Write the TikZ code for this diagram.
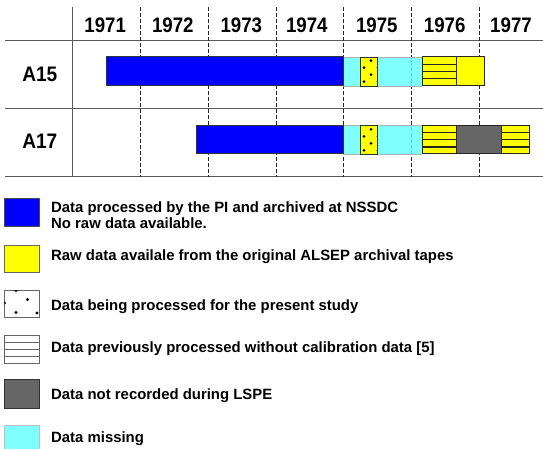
\documentclass[tikz,border=0pt]{standalone}
\usepackage{fontspec}
\setmainfont{Liberation Sans}
\newfontfamily\yearfont{Liberation Sans}[FakeStretch=0.89]
\newfontfamily\rowfont{Liberation Sans}[FakeStretch=0.91]
\definecolor{pblue}{RGB}{0,0,255}
\definecolor{pyellow}{RGB}{255,255,0}
\definecolor{pcyanT}{RGB}{96,255,255}
\definecolor{pcyan}{RGB}{128,255,255}
\definecolor{pgray}{RGB}{102,102,102}
\definecolor{pline}{RGB}{90,90,90}
\newcommand\stripebox[4]{%
  \fill[pyellow] (#1,#2) rectangle (#3,#4);
  \foreach \k in {1,2,3}{\draw[line width=1.2pt,draw=black!85] (#1,{#2+\k*(#4-#2)/4}) -- (#3,{#2+\k*(#4-#2)/4});}
  \draw[line width=1pt,draw=black!85] (#1,#2) rectangle (#3,#4);}
\newcommand\dotbox[4]{%
  \fill[pyellow] (#1,#2) rectangle (#3,#4);
  \begin{scope}
  \clip (#1,#2) rectangle (#3,#4);
  \foreach \dx/\dy in {10.7/3.7,3.7/10.7,17.7/10.7,10.7/17.7,3.7/24.7,17.7/24.7}{\fill[black] ({#1+\dx},{#2+\dy}) circle (1.5);}
  \end{scope}
  \draw[line width=0.9pt,draw=black!80] (#1,#2) rectangle (#3,#4);}
\tikzset{
  yearlbl/.style={font=\yearfont\bfseries\fontsize{21}{21}\selectfont, anchor=base, inner sep=0pt},
  rowlbl/.style={font=\rowfont\bfseries\fontsize{21}{21}\selectfont, anchor=base, inner sep=0pt},
  legtext/.style={font=\bfseries\fontsize{14.9}{16}\selectfont, anchor=base west, inner sep=0pt},
  gridline/.style={line width=1pt, draw=pline},
  yeardash/.style={line width=0.9pt, draw=black!85, dash pattern=on 3.5pt off 2.5pt},
  legbox/.style={line width=1pt, draw=black!60},
}
\begin{document}
\begin{tikzpicture}[x=1pt,y=-1pt]
\useasboundingbox (0,0) rectangle (543,449);
% grid
\draw[gridline] (5,41) -- (543,41);
\draw[gridline] (5,109) -- (543,109);
\draw[gridline] (5,176.7) -- (543,176.7);
\draw[gridline] (72.7,7.3) -- (72.7,176.7);
\foreach \x in {140.7,208.3,276,343.5,411.3,479}{\draw[yeardash] (\x,7.3) -- (\x,176.7);}
% years
\node[yearlbl] (y71) at (105.2,32.3) {1971};
\node[yearlbl] (y72) at (172.8,32.3) {1972};
\node[yearlbl] (y73) at (241.3,32.3) {1973};
\node[yearlbl] (y74) at (306.8,32.3) {1974};
\node[yearlbl] (y75) at (376.8,32.3) {1975};
\node[yearlbl] (y76) at (444.7,32.3) {1976};
\node[yearlbl] (y77) at (511,32.3) {1977};
\node[rowlbl] (a15) at (39.8,81.7) {A15};
\node[rowlbl] (a17) at (39.8,149) {A17};
% A15 bar
\fill[pcyanT, fill opacity=0.8] (343.3,57) rectangle (422.3,86);
\draw[draw=black!30, line width=0.8pt] (343.3,57) -- (422.3,57) (343.3,86) -- (422.3,86);
\draw[fill=pblue, line width=1pt, draw=black!80] (106.3,57) rectangle (343.3,86);
\dotbox{360.3}{57}{377.7}{86}
\stripebox{422.3}{57}{456.7}{86}
\draw[fill=pyellow, line width=1pt, draw=black!85] (456.7,57) rectangle (484.7,86);
% A17 bar
\fill[pcyanT, fill opacity=0.8] (343.3,125.7) rectangle (422.3,154);
\draw[draw=black!30, line width=0.8pt] (343.3,125.7) -- (422.3,125.7) (343.3,154) -- (422.3,154);
\draw[fill=pblue, line width=1pt, draw=black!80] (196.7,125.7) rectangle (343.3,154);
\dotbox{360.3}{125.7}{377.7}{154}
\stripebox{422.3}{125.7}{456.7}{154}
\draw[fill=pgray, line width=1pt, draw=black!85] (456.7,125.7) rectangle (501.3,154);
\stripebox{501.3}{125.7}{529.7}{154}
% legend boxes
\draw[legbox, fill=pblue, draw=black!70] (4.3,198.3) rectangle (39,226.7);
\draw[legbox, fill=pyellow] (4.3,245) rectangle (39,272);
\draw[legbox, fill=white] (4.3,290) rectangle (39,317.7);
\begin{scope}
\clip (4.3,290) rectangle (39,317.7);
\foreach \px/\py in {16/290.5,27.5/299.5,4.5/303,16/312.5,37/313}{\fill[black] (\px,\py) circle (1.6);}
\end{scope}
\draw[legbox, fill=white] (4.3,335) rectangle (39,363.3);
\foreach \k in {1,2,3}{\draw[line width=0.9pt, draw=black!60] (4.3,{335+\k*7.08}) -- (39,{335+\k*7.08});}
\draw[legbox, fill=pgray, draw=black!80] (4.3,379.3) rectangle (39,408.3);
\draw[legbox, fill=pcyan, draw=black!25] (4.3,425) rectangle (39,452);
% legend texts
\node[legtext] (t1a) at (51,212.3) {Data processed by the PI and archived at NSSDC};
\node[legtext] (t1b) at (51,228.3) {No raw data available.};
\node[legtext] (t2) at (51,260.7) {Raw data availale from the original ALSEP archival tapes};
\node[legtext] (t3) at (51,310.7) {Data being processed for the present study};
\node[legtext] (t4) at (51,352.3) {Data previously processed without calibration data [5]};
\node[legtext] (t5) at (51,399.3) {Data not recorded during LSPE};
\node[legtext] (t6) at (51,442.7) {Data missing};
\end{tikzpicture}
\end{document}
